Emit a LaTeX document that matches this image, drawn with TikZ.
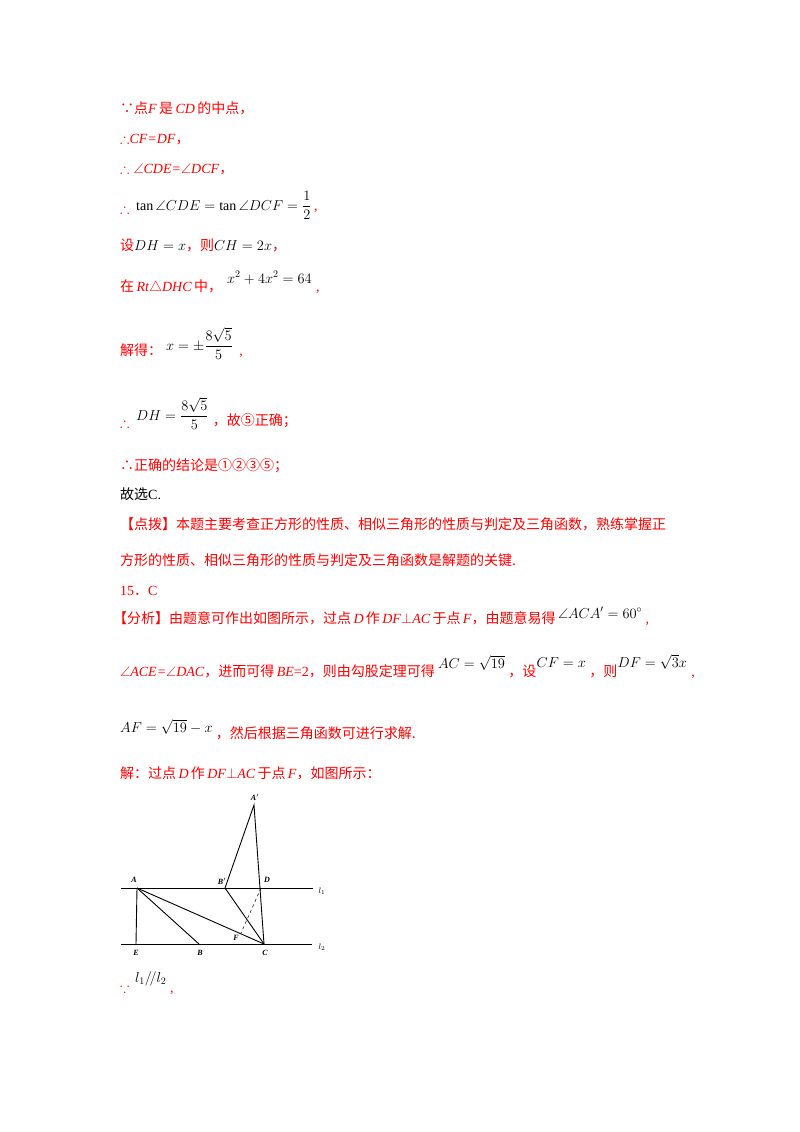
\documentclass[tikz,border=0pt]{standalone}
\usepackage{amsmath,amssymb}
\usepackage{fontspec}
\setmainfont{Liberation Serif}
\newfontfamily\cjk{Noto Sans CJK SC}
\newcommand{\zh}[1]{{\cjk #1}}
\begin{document}
\begin{tikzpicture}[x=1pt,y=-1pt,
  t/.style={anchor=base west,inner sep=0pt,text=red,font=\fontsize{14}{16}\selectfont},
  k/.style={anchor=base west,inner sep=0pt,text=black,font=\fontsize{14}{16}\selectfont},
  lab/.style={inner sep=0pt,font=\fontsize{8}{9}\selectfont\bfseries\itshape},
  ln/.style={line width=0.9pt}]
\useasboundingbox (0,0) rectangle (800,1132);
\node[t] (t1) at (120,113) {\zh{∵点}\textit{F}\,\zh{是}\,\textit{CD}\,\zh{的中点，}};
\node[t] (t2) at (120,143) {$\therefore$\textit{CF=DF}\zh{，}};
\node[t] (t3) at (120,173) {$\therefore\angle$\textit{CDE=}$\angle$\textit{DCF}\zh{，}};
\node[t] (t4a) at (120,213) {$\therefore$};
\node[k] (t4) at (136,210) {$\tan\angle CDE=\tan\angle DCF=\dfrac{1}{2}$};
\node[t] (t4b) at ([xshift=2pt]t4.base east) {,};
\node[t] (t5) at (120,250) {\zh{设}\textcolor{black}{$DH=x$}\zh{，则}\textcolor{black}{$CH=2x$}\zh{，}};
\node[t] (t6) at (120,291) {\zh{在}\,\textit{Rt}$\triangle$\textit{DHC}\,\zh{中，}};
\node[k] (t6m) at (227,283) {$x^2+4x^2=64$};
\node[t] (t6b) at ([xshift=4pt]t6m.base east|-t6.base) {,};
\node[t] (t7) at (120,355) {\zh{解得：}};
\node[k] (t7m) at (166,350) {$x=\pm\dfrac{8\sqrt5}{5}$};
\node[t] (t7b) at ([xshift=6pt]t7m.base east|-t7.base) {,};
\node[t] (t8a) at (120,427) {$\therefore$};
\node[k] (t8m) at (136,420) {$DH=\dfrac{8\sqrt5}{5}$};
\node[t] (t8) at ([xshift=4pt]t8m.base east|-0,425) {\zh{，故⑤正确；}};
\node[t] (t9) at (120,470) {\zh{∴正确的结论是①②③⑤；}};
\node[k] (t10) at (120,499) {\zh{故选}C.};
\node[t] (t11) at (120,529) {\zh{【点拨】本题主要考查正方形的性质、相似三角形的性质与判定及三角函数，熟练掌握正}};
\node[t] (t12) at (120,565) {\zh{方形的性质、相似三角形的性质与判定及三角函数是解题的关键.}};
\node[t] (t13) at (120,595) {15\zh{．}C};
\node[t] (t14) at (113,623) {\zh{【分析】由题意可作出如图所示，过点}\,\textit{D}\,\zh{作}\,\textit{DF}$\perp$\textit{AC}\,\zh{于点}\,\textit{F}\zh{，由题意易得}};
\node[k] (t14m) at ([xshift=2pt,yshift=5pt]t14.base east) {$\angle ACA'=60^\circ$};
\node[t] (t14b) at ([xshift=3pt]t14m.base east|-t14.base) {,};
\node[t] (t15) at (120,676) {$\angle$\textit{ACE=}$\angle$\textit{DAC}\zh{，进而可得}\,\textit{BE}=2\zh{，则由勾股定理可得}};
\node[k] (t15m) at ([xshift=3pt,yshift=8pt]t15.base east) {$AC=\sqrt{19}$};
\node[t] (t15b) at ([xshift=3pt]t15m.base east|-t15.base) {\zh{，设}};
\node[k] (t15n) at ([yshift=9pt]t15b.base east) {$CF=x$};
\node[t] (t15c) at ([xshift=3pt]t15n.base east|-t15.base) {\zh{，则}};
\node[k] (t15o) at ([yshift=9pt]t15c.base east) {$DF=\sqrt3x$};
\node[t] (t15d) at ([xshift=4pt]t15o.base east|-t15.base) {,};
\node[k] (t16m) at (120,732) {$AF=\sqrt{19}-x$};
\node[t] (t16) at ([xshift=3pt,yshift=-6pt]t16m.base east) {\zh{，然后根据三角函数可进行求解.}};
\node[t] (t17) at (120,778) {\zh{解：过点}\,\textit{D}\,\zh{作}\,\textit{DF}$\perp$\textit{AC}\,\zh{于点}\,\textit{F}\zh{，如图所示：}};
% figure
\coordinate (A) at (137,888); \coordinate (E) at (136,944);
\coordinate (B) at (199,944); \coordinate (C) at (264,944);
\coordinate (D) at (261,888); \coordinate (Bp) at (225,888);
\coordinate (Ap) at (254,805); \coordinate (F) at (241,933);
\coordinate (l1a) at (121,888); \coordinate (l1b) at (313,888);
\coordinate (l2a) at (121,944); \coordinate (l2b) at (312,944);
\draw[line width=0.6pt] (l1a) -- (l1b);
\draw[line width=0.6pt] (l2a) -- (l2b);
\draw[ln] (A) -- (E);
\draw[ln] (A) -- (B);
\draw[ln] (A) -- (C);
\draw[ln] (Bp) -- (C);
\draw[ln] (Bp) -- (Ap) -- (C);
\draw[line width=0.5pt,dashed] (D) -- (F);
\node[lab] (LA) at (134,880) {A};
\node[lab] (LE) at (136,953) {E};
\node[lab] (LB) at (200,953) {B};
\node[lab] (LC) at (265,953) {C};
\node[lab] (LD) at (267,880) {D};
\node[lab] (LBp) at (222,881) {B$'$};
\node[lab] (LAp) at (255,797) {A$'$};
\node[lab] (LF) at (236,938) {F};
\node[lab,font=\fontsize{8}{9}\selectfont\itshape] (L1) at (322,891) {$l_1$};
\node[lab,font=\fontsize{8}{9}\selectfont\itshape] (L2) at (322,947) {$l_2$};
\node[t] (t18a) at (120,992) {$\because$};
\node[k] (t18) at (135,982) {$l_1/\!/l_2$};
\node[t] (t18b) at (170,992) {,};
\end{tikzpicture}
\end{document}
